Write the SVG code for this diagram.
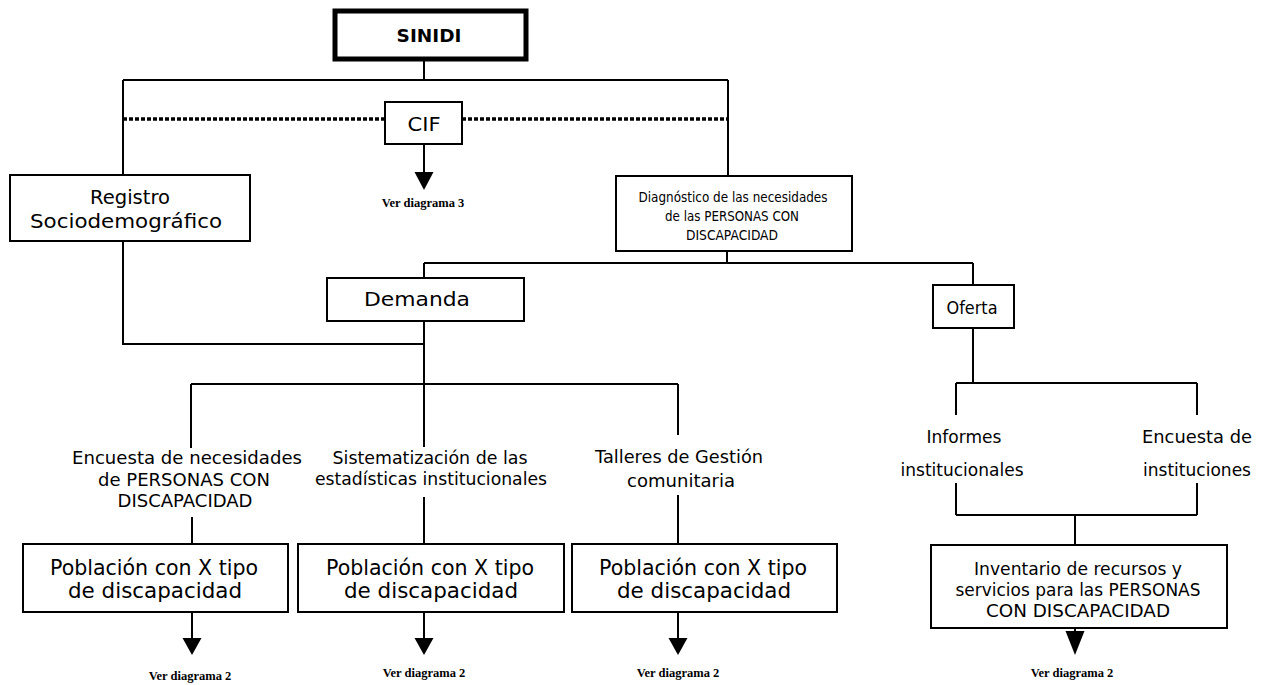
<svg xmlns="http://www.w3.org/2000/svg" width="1265" height="685" viewBox="0 0 1265 685">
<style>
  .box { fill: #fff; stroke: #000; stroke-width: 2; }
  .thick { fill: #fff; stroke: #000; stroke-width: 5; }
  .ln { fill: none; stroke: #000; stroke-width: 2; }
  .dot { fill: none; stroke: #000; stroke-width: 3.5; stroke-dasharray: 4 2; }
  .t { font-family: "DejaVu Sans", "Liberation Sans", sans-serif; fill: #000; text-anchor: middle; }
  .b { font-family: "DejaVu Sans", sans-serif; font-weight: bold; fill: #000; text-anchor: middle; }
  .ref { font-family: "Liberation Serif", "Times New Roman", serif; font-weight: bold; font-size: 12.5px; fill: #000; text-anchor: middle; }
  .arr { fill: #000; stroke: none; }
</style>
<rect width="1265" height="685" fill="#fff"/>
<g id="connectors">
  <path class="ln" d="M424 60 V80 M123 80 H728 M123 80 V175 M728 80 V176"/>
  <path class="dot" d="M123 119 H385 M462 119 H728"/>
  <path class="ln" d="M424 144 V173"/>
  <polygon class="arr" points="414.5,172 433.5,172 424,190"/>
  <path class="ln" d="M123 241 V344 H424"/>
  <path class="ln" d="M727 251 V263 M424 263 H973 M424 263 V278 M973 263 V285"/>
  <path class="ln" d="M424 321 V384 M191 384 H678 M191 384 V448 M424 384 V447 M678 384 V435"/>
  <path class="ln" d="M192 517 V544 M424 497 V544 M678 495 V544"/>
  <path class="ln" d="M973 328 V383 M956 383 H1197 M956 383 V415 M1197 383 V415"/>
  <path class="ln" d="M956 483 V515 M1197 483 V515 M956 515 H1197 M1075 515 V545"/>
  <path class="ln" d="M192 612 V639 M424 612 V639 M678 612 V639 M1075 628 V632"/>
  <polygon class="arr" points="182.5,638 201.5,638 192,655"/>
  <polygon class="arr" points="414.5,638 433.5,638 424,655"/>
  <polygon class="arr" points="668.5,638 687.5,638 678,655"/>
  <polygon class="arr" points="1065.5,631 1084.5,631 1075,655"/>
</g>
<g id="sinidi">
  <rect class="thick" x="335" y="11" width="191" height="48"/>
  <text class="b" x="429" y="42" font-size="18.5">SINIDI</text>
</g>
<g id="cif">
  <rect class="box" x="385" y="102" width="77" height="42"/>
  <text class="t" x="424" y="131" font-size="20" textLength="33" lengthAdjust="spacingAndGlyphs">CIF</text>
  <text class="ref" x="423" y="207">Ver diagrama 3</text>
</g>
<g id="registro">
  <rect class="box" x="10" y="175" width="240" height="66"/>
  <text class="t" x="130" y="204" font-size="19.5" textLength="80" lengthAdjust="spacingAndGlyphs">Registro</text>
  <text class="t" x="126" y="228" font-size="19.5" textLength="192" lengthAdjust="spacingAndGlyphs">Sociodemográfico</text>
</g>
<g id="diagnostico">
  <rect class="box" x="616" y="176" width="236" height="75"/>
  <text class="t" x="733" y="202" font-size="14.5" textLength="189" lengthAdjust="spacingAndGlyphs">Diagnóstico de las necesidades</text>
  <text class="t" x="732" y="221" font-size="14.5" textLength="134" lengthAdjust="spacingAndGlyphs">de las PERSONAS CON</text>
  <text class="t" x="732" y="240" font-size="14.5" textLength="92" lengthAdjust="spacingAndGlyphs">DISCAPACIDAD</text>
</g>
<g id="demanda">
  <rect class="box" x="327" y="278" width="197" height="43"/>
  <text class="t" x="417" y="306" font-size="19" textLength="106" lengthAdjust="spacingAndGlyphs">Demanda</text>
</g>
<g id="oferta">
  <rect class="box" x="933" y="285" width="81" height="43"/>
  <text class="t" x="972" y="314" font-size="18" textLength="51" lengthAdjust="spacingAndGlyphs">Oferta</text>
</g>
<g id="encuesta-necesidades">
  <text class="t" x="187" y="464" font-size="17" textLength="230" lengthAdjust="spacingAndGlyphs">Encuesta de necesidades</text>
  <text class="t" x="184" y="486" font-size="17" textLength="172" lengthAdjust="spacingAndGlyphs">de PERSONAS CON</text>
  <text class="t" x="185" y="507" font-size="17" textLength="135" lengthAdjust="spacingAndGlyphs">DISCAPACIDAD</text>
</g>
<g id="sistematizacion">
  <text class="t" x="430" y="464" font-size="17" textLength="195" lengthAdjust="spacingAndGlyphs">Sistematización de las</text>
  <text class="t" x="431" y="485" font-size="17" textLength="232" lengthAdjust="spacingAndGlyphs">estadísticas institucionales</text>
</g>
<g id="talleres">
  <text class="t" x="679" y="463" font-size="17" textLength="168" lengthAdjust="spacingAndGlyphs">Talleres de Gestión</text>
  <text class="t" x="681" y="487" font-size="17" textLength="108" lengthAdjust="spacingAndGlyphs">comunitaria</text>
</g>
<g id="informes">
  <text class="t" x="964" y="443" font-size="17" textLength="75" lengthAdjust="spacingAndGlyphs">Informes</text>
  <text class="t" x="962" y="476" font-size="17" textLength="123" lengthAdjust="spacingAndGlyphs">institucionales</text>
</g>
<g id="encuesta-instituciones">
  <text class="t" x="1197" y="443" font-size="17" textLength="110" lengthAdjust="spacingAndGlyphs">Encuesta de</text>
  <text class="t" x="1197" y="476" font-size="17" textLength="108" lengthAdjust="spacingAndGlyphs">instituciones</text>
</g>
<g id="poblacion-1">
  <rect class="box" x="23" y="544" width="265" height="68"/>
  <text class="t" x="154" y="575" font-size="21" textLength="208" lengthAdjust="spacingAndGlyphs">Población con X tipo</text>
  <text class="t" x="155" y="598" font-size="21" textLength="174" lengthAdjust="spacingAndGlyphs">de discapacidad</text>
  <text class="ref" x="190" y="680">Ver diagrama 2</text>
</g>
<g id="poblacion-2">
  <rect class="box" x="298" y="544" width="266" height="68"/>
  <text class="t" x="430" y="575" font-size="21" textLength="208" lengthAdjust="spacingAndGlyphs">Población con X tipo</text>
  <text class="t" x="431" y="598" font-size="21" textLength="174" lengthAdjust="spacingAndGlyphs">de discapacidad</text>
  <text class="ref" x="424" y="677">Ver diagrama 2</text>
</g>
<g id="poblacion-3">
  <rect class="box" x="572" y="544" width="265" height="68"/>
  <text class="t" x="703" y="575" font-size="21" textLength="208" lengthAdjust="spacingAndGlyphs">Población con X tipo</text>
  <text class="t" x="704" y="598" font-size="21" textLength="174" lengthAdjust="spacingAndGlyphs">de discapacidad</text>
  <text class="ref" x="678" y="677">Ver diagrama 2</text>
</g>
<g id="inventario">
  <rect class="box" x="931" y="545" width="296" height="83"/>
  <text class="t" x="1078" y="575" font-size="18" textLength="208" lengthAdjust="spacingAndGlyphs">Inventario de recursos y</text>
  <text class="t" x="1078" y="596" font-size="18" textLength="245" lengthAdjust="spacingAndGlyphs">servicios para las PERSONAS</text>
  <text class="t" x="1078" y="617" font-size="18" textLength="184" lengthAdjust="spacingAndGlyphs">CON DISCAPACIDAD</text>
  <text class="ref" x="1072" y="677">Ver diagrama 2</text>
</g>
</svg>
